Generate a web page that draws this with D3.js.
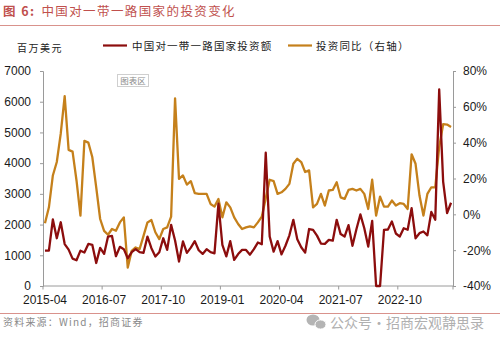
<!DOCTYPE html>
<html><head><meta charset="utf-8">
<script src="https://cdn.jsdelivr.net/npm/d3@7"></script>
<style>
html,body{margin:0;padding:0;background:#fff;}
svg{display:block;}
</style></head>
<body><svg id="c" width="500" height="342"></svg>
<script>
// ---- data ----
const startYear = 2015, startMonth = 4, monthCount = 104;
const months = [];
for (let k = 0; k < monthCount; k++) {
  const m = startMonth - 1 + k;
  const y = startYear + Math.floor(m / 12), mm = (m % 12) + 1;
  months.push(y + "-" + (mm < 10 ? "0" + mm : mm));
}
const tickLabels = ["2015-04","2016-07","2017-10","2019-01","2020-04","2021-07","2022-10"];
const leftTicks = [0,1000,2000,3000,4000,5000,6000,7000];
const rightTicks = [-40,-20,0,20,40,60,80];
const investAmount = [
 1150,1150,2165,1555,2075,1365,1185,890,840,1150,
 1090,1370,1340,750,1240,1045,1610,1630,970,1275,
 1200,900,1100,1200,1100,1080,1610,1230,960,1100,
 1555,1175,1990,1480,795,1450,1080,1250,1460,1165,
 1045,1200,1100,1065,2680,1340,965,1460,850,1040,
 1175,1175,1020,1200,1415,1360,4340,1610,1120,1460,
 1030,1310,1650,2155,1520,1260,1087,1855,1826,1640,
 1380,1370,1500,1475,2155,1690,1610,1980,1310,1850,
 2330,1880,1285,2120,0,0,1830,1840,2100,1710,
 1610,1880,1830,2535,1555,1720,1775,1650,2410,2155,
 6400,3400,2375,2710
];
const investYoY = [
 -5,3.9,21.7,29.2,45,66,36,35,18.9,-0.7,
 41,40,32,15,-2.6,-9.2,-11.4,-8.2,-9.2,-4.5,
 -1.7,-29.7,-20.4,-18.5,-19.4,-12,-4.5,-3.2,-10,-13.8,
 -8.2,-7.3,-1.3,64.7,19.8,21.7,16.6,18.5,11.8,11.4,
 11.4,11.4,5.8,4.3,8.6,-1.7,6.7,3.9,-1.7,-5.4,
 -8.2,-7.3,-6.7,-7.3,-4.5,-1.3,9,19.3,18.5,11.4,
 12.3,14.2,17,28.2,31,29.2,23.6,24.5,3.9,5.8,
 11.4,4.9,13.3,13.6,17.9,9.5,8.6,13.6,14.2,13.3,
 14.2,11.4,3,19.3,-0.7,9.9,4.3,4.3,7.7,4.9,
 6.2,5.8,3,33.5,28.2,10.5,-0.7,11.4,15.1,15.1,
 37.6,50.3,50.1,48.8
];
const seriesNames = ["中国对一带一路国家投资额","投资同比（右轴）"];
const colors = {red:"#8c0d0d", orange:"#c5801b"};

// ---- drawing ----
const svg = d3.select("#c");
const numFont = "'Liberation Sans', Arial, sans-serif";
const cjkFont = "'Noto Sans CJK SC', sans-serif";
const L = 43, R = 453, T = 71, B = 286;

const x = d3.scaleBand().domain(months).range([L, R]).padding(0);
const yL = d3.scaleLinear().domain([0,7000]).range([B, T]);
const yR = d3.scaleLinear().domain([-40,80]).range([B, T]);
const cx = d => x(d) + x.bandwidth()/2;

// title
const title = svg.append("text").attr("x",3).attr("y",16)
  .attr("font-family",cjkFont).attr("font-size",12.5).attr("fill","#c0504d")
  .style("letter-spacing","1.4px");
title.append("tspan").attr("font-weight","bold").text("图 6:");
title.append("tspan").attr("dx",6).text("中国对一带一路国家的投资变化");
svg.append("line").attr("x1",0).attr("x2",500).attr("y1",25.5).attr("y2",25.5)
  .attr("stroke","#d9928c").attr("stroke-width",1);

// unit label
svg.append("text").attr("x",17).attr("y",52).attr("font-family",cjkFont)
  .attr("font-size",10).style("letter-spacing","1.5px").attr("fill","#222").text("百万美元");

// legend
const lg = [{name:seriesNames[0],c:colors.red,x1:103,x2:127,tx:132},
            {name:seriesNames[1],c:colors.orange,x1:288,x2:312,tx:316}];
lg.forEach(d=>{
  svg.append("line").attr("x1",d.x1).attr("x2",d.x2).attr("y1",45.5).attr("y2",45.5)
    .attr("stroke",d.c).attr("stroke-width",2.2);
  svg.append("text").attr("x",d.tx).attr("y",49.5).attr("font-family",cjkFont)
    .attr("font-size",10.5).style("letter-spacing","1.2px").attr("fill","#222").text(d.name);
});

// axes
const axisColor = "#9a9a9a";
const gL = svg.append("g").attr("transform",`translate(${L},0)`)
  .call(d3.axisLeft(yL).tickValues(leftTicks).tickSize(3).tickPadding(9).tickFormat(d3.format("d")));
const gR = svg.append("g").attr("transform",`translate(${R},0)`)
  .call(d3.axisRight(yR).tickValues(rightTicks).tickSize(3).tickPadding(7).tickFormat(d=>d+"%"));
const gX = svg.append("g").attr("transform",`translate(0,${B})`)
  .call(d3.axisBottom(x).tickValues(tickLabels).tickSize(0).tickPadding(9));
[gL,gR,gX].forEach(g=>{
  g.select(".domain").attr("stroke",axisColor);
  g.selectAll(".tick line").attr("stroke",axisColor);
  g.selectAll(".tick text").attr("font-family",numFont).attr("font-size",12).attr("fill","#1a1a1a");
});
gX.select(".domain").attr("d",`M${L},0H${R}`);
// x tick marks at category boundaries
gX.selectAll(".xb").data(tickLabels).enter().append("line")
  .attr("x1",d=>x(d)).attr("x2",d=>x(d)).attr("y1",0).attr("y2",3.5).attr("stroke",axisColor);
gX.append("line").attr("x1",R).attr("x2",R).attr("y1",0).attr("y2",3.5).attr("stroke",axisColor);

// "图表区" hint box
svg.append("rect").attr("x",117.5).attr("y",74.5).attr("width",31).attr("height",12)
  .attr("fill","#fff").attr("stroke","#cfcfcf");
svg.append("text").attr("x",133).attr("y",83.5).attr("text-anchor","middle")
  .attr("font-family",cjkFont).attr("font-size",8.5).attr("fill","#8a8a8a").text("图表区");

// lines
const lineYoY = d3.line().x((d,i)=>cx(months[i])).y(d=>yR(d));
const lineAmt = d3.line().x((d,i)=>cx(months[i])).y(d=>yL(d));
svg.append("path").datum(investYoY).attr("d",lineYoY).attr("fill","none")
  .attr("stroke",colors.orange).attr("stroke-width",2.3).attr("stroke-linejoin","round");
svg.append("path").datum(investAmount).attr("d",lineAmt).attr("fill","none")
  .attr("stroke",colors.red).attr("stroke-width",2.3).attr("stroke-linejoin","round");

// footer
svg.append("line").attr("x1",0).attr("x2",500).attr("y1",313.5).attr("y2",313.5)
  .attr("stroke","#d9928c").attr("stroke-width",1);
svg.append("text").attr("x",3).attr("y",326).attr("font-family",cjkFont)
  .attr("font-size",10).style("letter-spacing","1.2px").attr("fill","#8a8a8a").text("资料来源：Wind，招商证券");
// watermark
const wm = svg.append("g").attr("fill","#b4b4b4");
wm.append("ellipse").attr("cx",313).attr("cy",320).attr("rx",6.5).attr("ry",5.5);
wm.append("ellipse").attr("cx",320.5).attr("cy",324.5).attr("rx",5.5).attr("ry",4.6).attr("stroke","#fff").attr("stroke-width",1);
svg.append("text").attr("x",330).attr("y",327.5).attr("font-family",cjkFont)
  .attr("font-size",14).attr("fill","#b0b0b0").text("公众号·招商宏观静思录");
</script></body></html>
